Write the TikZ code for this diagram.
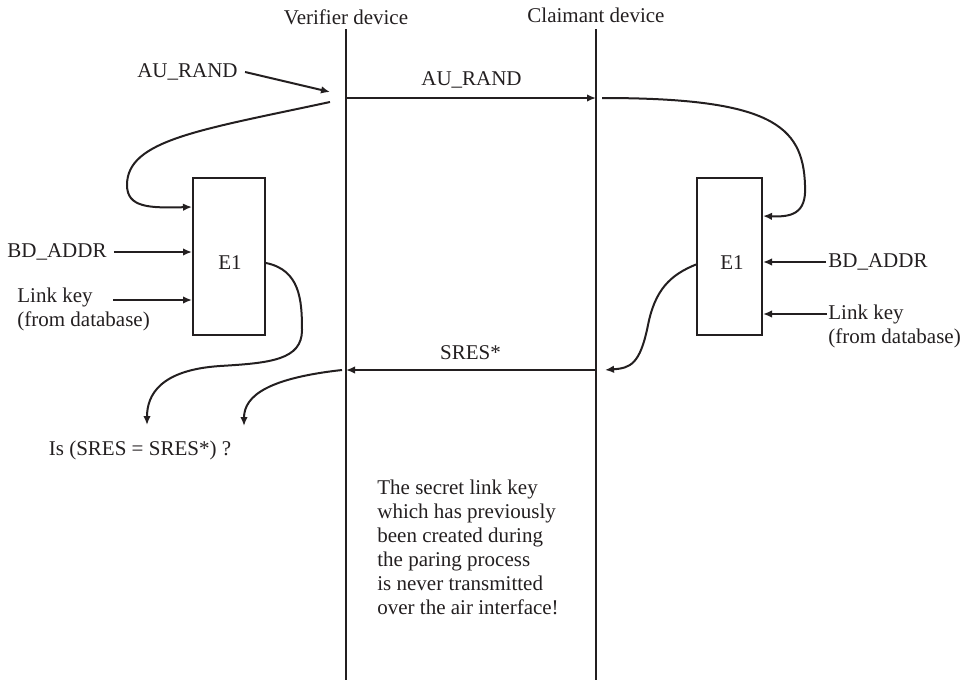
\documentclass[tikz,border=0pt]{standalone}
\usepackage{fontspec}
\setmainfont{Liberation Serif}
\usepackage{xcolor}
\usetikzlibrary{arrows.meta,calc}
\definecolor{authink}{HTML}{231F20}

\begin{document}
\begin{tikzpicture}[
  x=0.5pt, y=-0.5pt,
  font=\fontsize{10.5}{12}\selectfont,
  lbl/.style={text=authink, inner sep=3.5pt},
  life/.style={draw=authink, line width=1.3pt},
  encbox/.style={draw=authink, line width=1pt, minimum width=36pt, minimum height=78.5pt},
  arr/.style={-{Latex[length=4.5pt,width=3.8pt]}, line width=1pt, draw=authink}
]
\useasboundingbox (0,0) rectangle (969,680);

% the two devices and their lifelines
\node[lbl] (vd) at (346,17) {Verifier device};
\node[lbl] (cd) at (596,15) {Claimant device};
\coordinate (vtop) at (346,29); \coordinate (vbot) at (346,680);
\coordinate (ctop) at (596,29); \coordinate (cbot) at (596,680);
\draw[life] (vtop) -- (vbot);
\draw[life] (ctop) -- (cbot);

% E1 blocks
\node[encbox] (ev) at (229,256.5) {};
\node[encbox, minimum width=32.5pt] (ec) at (729.5,256.5) {};
\node[lbl] (ev-txt) at (230,263) {E1};
\node[lbl] (ec-txt) at (732,263) {E1};

% challenge
\node[lbl] (aul) at (187.5,72) {AU\_RAND};
\coordinate (v-in) at (330,92);
\coordinate (v-out) at (330,102);
\coordinate (v-au) at (347,98); \coordinate (c-au) at (596,98);
\coordinate (c-out) at (602,98);
\draw[arr] (aul.east) -- (v-in);
\draw[arr] (v-au) -- node[lbl, above=1pt] {AU\_RAND} (c-au);
\draw[arr] (v-out) .. controls (200,130) and (127,140) .. (127,185)
  .. controls (127,208) and (150,208) .. ([yshift=-15pt]ev.north west);
\draw[arr] (c-out) .. controls (770,98) and (803,125) .. (805,185)
  .. controls (807,215) and (790,217) .. ([yshift=-19.5pt]ec.north east);

% inputs of the verifier
\node[lbl, anchor=west] (bdl) at (0,252) {BD\_ADDR};
\node[lbl, align=left, anchor=west] (lkl) at (10,309) {Link key\\(from database)};
\coordinate (lkl-in) at (113,300);
\draw[arr] (bdl.east) -- (bdl.east -| ev.west);
\draw[arr] (lkl-in) -- (lkl-in -| ev.west);

% inputs of the claimant
\node[lbl, anchor=west, inner sep=1pt] (bdr) at (826,262) {BD\_ADDR};
\node[lbl, align=left, anchor=west, inner sep=1pt] (lkr) at (826,326) {Link key\\(from database)};
\coordinate (lkr-in) at (827,314);
\draw[arr] (bdr.west) -- (bdr.west -| ec.east);
\draw[arr] (lkr-in) -- (lkr-in -| ec.east);

% response
\coordinate (c-sr) at (595,370); \coordinate (v-sr) at (346,370);
\coordinate (c-ret) at (605,370);
\coordinate (v-ret) at (342,370);
\draw[arr] ([yshift=-4pt]ec.west) .. controls (670,275) and (655,290) .. (648,325)
  .. controls (640,365) and (630,368) .. (c-ret);
\draw[arr] (c-sr) -- node[lbl, above=1pt] {SRES*} (v-sr);

% comparison at the verifier
\node[lbl] (cmp) at (140,450) {Is (SRES = SRES*) ?};
\coordinate (cmp-a) at (147,425); \coordinate (cmp-b) at (244,426);
\draw[arr] ([yshift=-3.25pt]ev.east) .. controls (300,270) and (302,300) .. (302,330)
  .. controls (302,360) and (270,363) .. (220,366)
  .. controls (160,370) and (147,395) .. (cmp-a);
\draw[arr] (v-ret) .. controls (270,378) and (244,395) .. (cmp-b);

\node[lbl, align=left, anchor=west] (note) at (370,547) {The secret link key\\which has previously\\been created during\\the paring process\\is never transmitted\\over the air interface!};
\end{tikzpicture}
\end{document}
